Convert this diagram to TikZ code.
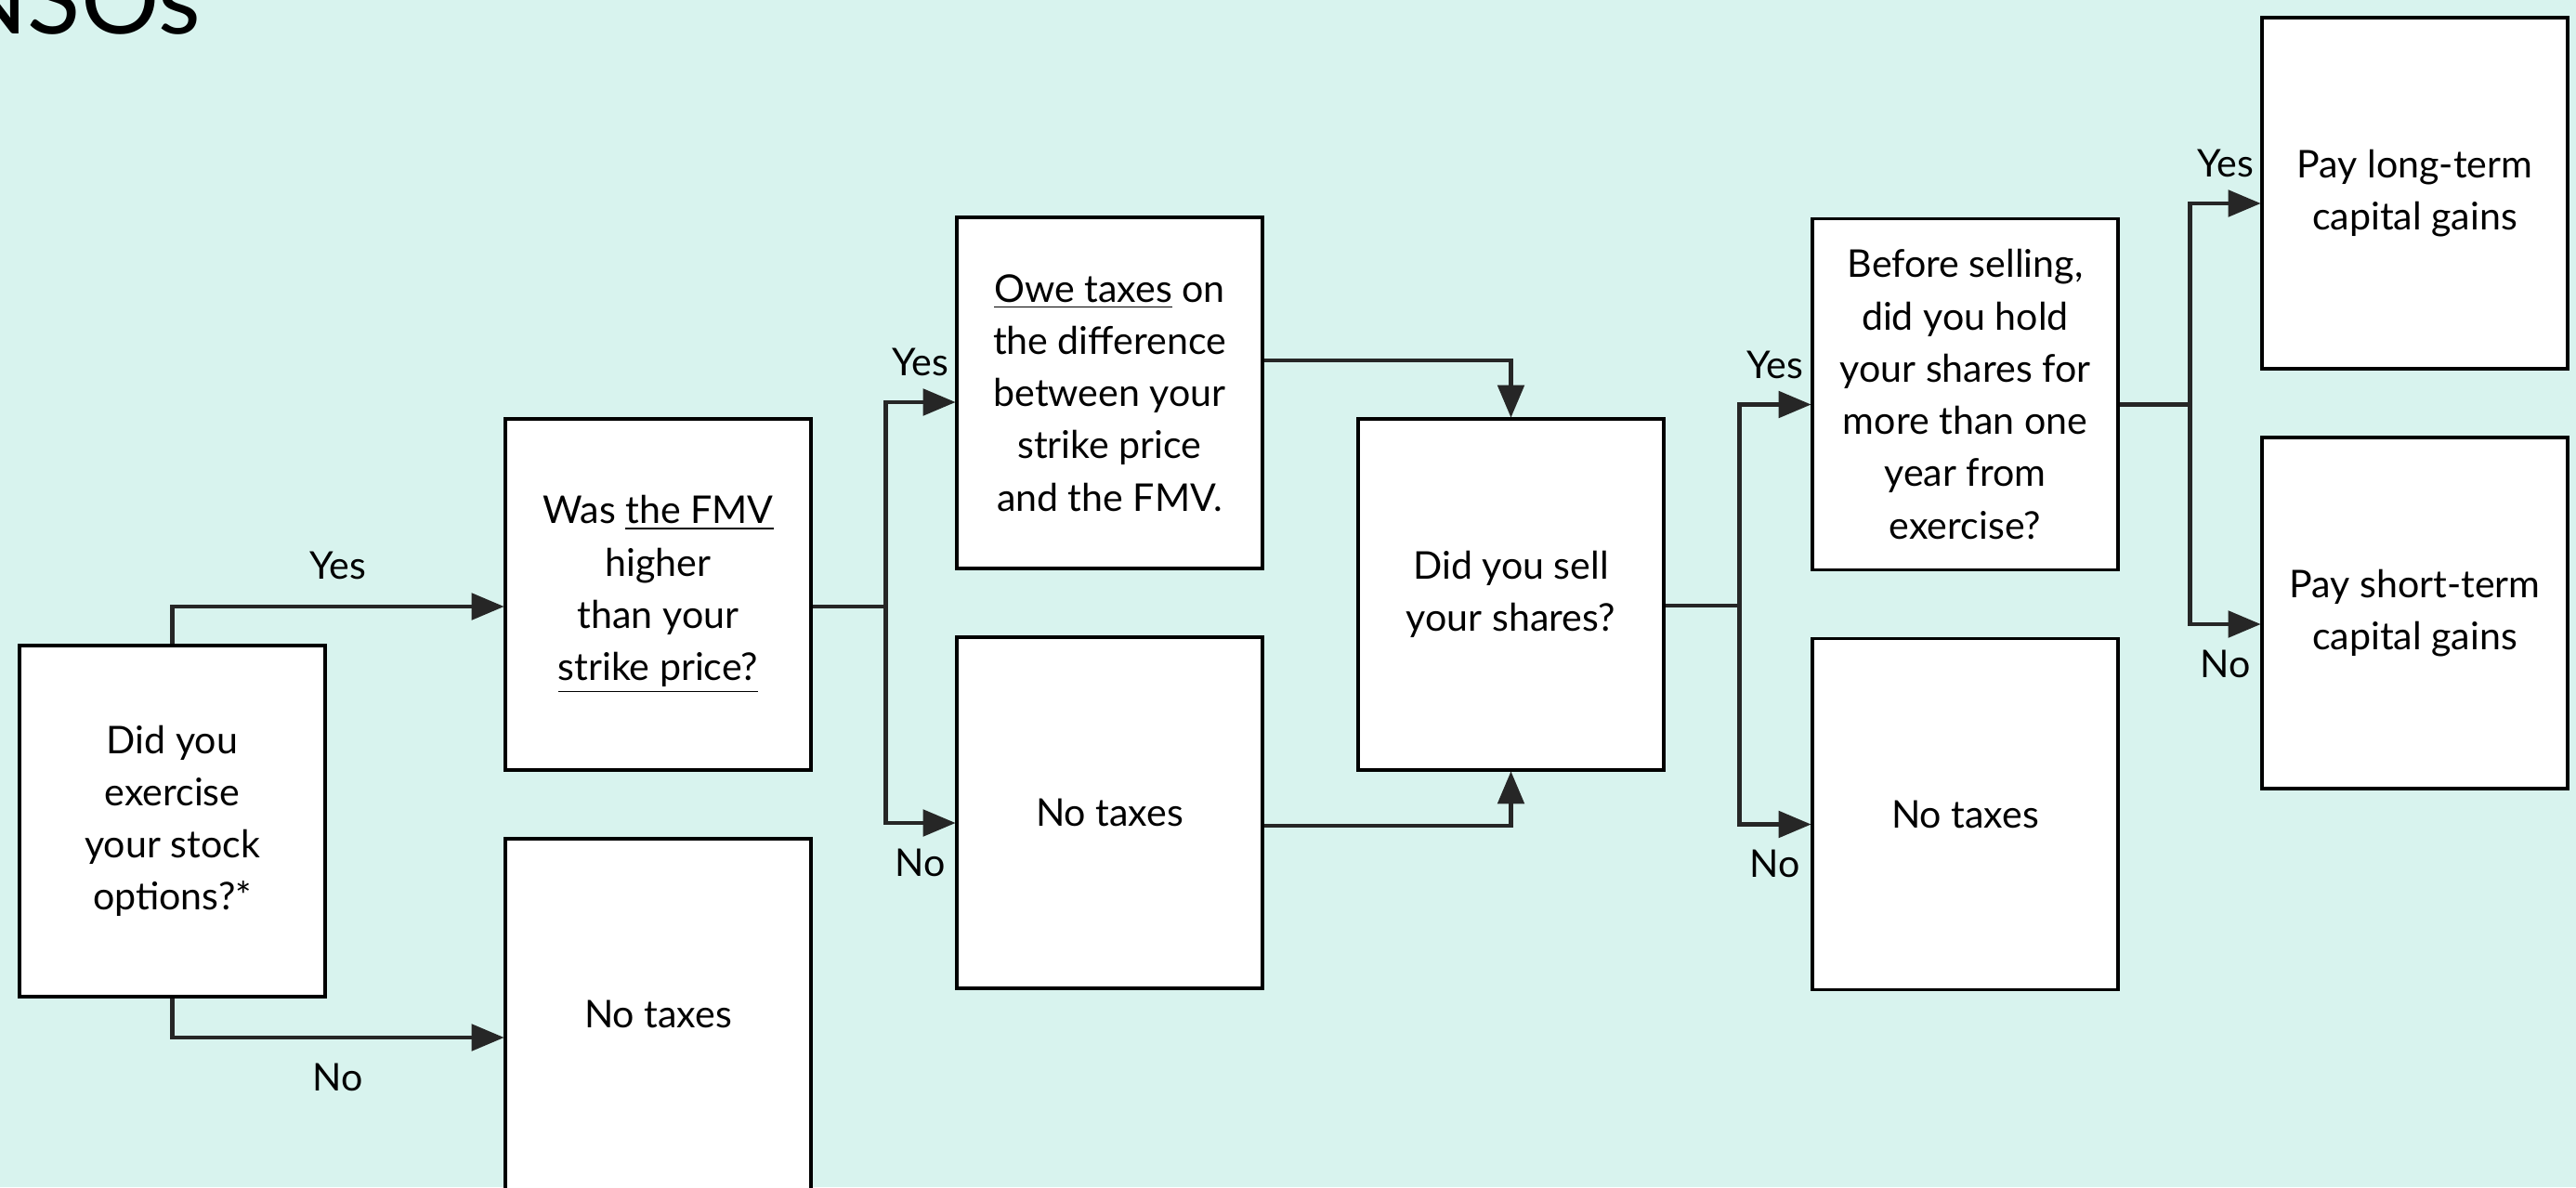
\documentclass[tikz,border=0pt]{standalone}
\usepackage{fontspec}
\setmainfont{Lato}
\usepackage{tikz}
\usetikzlibrary{arrows}
\definecolor{mint}{HTML}{D8F3EE}
\definecolor{ink}{HTML}{262626}
\newcommand{\boxfont}{\fontsize{11.7}{16}\selectfont}
\tikzstyle{question} = [rectangle, minimum width=3.29cm, minimum height=3.78cm, text centered, align=center, draw=black, line width=0.9pt, fill=white, font=\boxfont]
\tikzstyle{outcome} = [question]
\tikzstyle{arrow} = [line width=1.3pt, draw=ink, ->, >=triangle 45]
\tikzstyle{answer} = [font=\boxfont, inner sep=0.333em]

\begin{document}
\begin{tikzpicture}[node distance=4.52cm]
\useasboundingbox (0,0) rectangle (27.73,-12.78);
\clip (0,0) rectangle (27.73,-12.78);
\fill[mint] (0,0) rectangle (27.73,-12.78);
\node (title) [anchor=base east, inner sep=0pt, font=\fontsize{30}{30}\selectfont] at (2.17,-0.36) {NSOs};

% Nodes
\node (exercise) [question] at (1.855,-8.84) {Did you\\exercise\\your stock\\options?*};
\node (fmv) [question] at (7.085,-6.40) {Was \underline{the FMV}\\higher\\than your\\\underline{strike price?}};
\node (notax1) [outcome, below of=fmv] {No taxes};
\node (owe) [outcome] at (11.945,-4.23) {\underline{Owe taxes} on\\the difference\\between your\\strike price\\and the FMV.};
\node (notax2) [outcome, below of=owe] {No taxes};
\node (sell) [question] at (16.265,-6.40) {Did you sell\\your shares?};
\node (hold) [question] at (21.155,-4.245) {Before selling,\\did you hold\\your shares for\\more than one\\year from\\exercise?};
\node (notax3) [outcome, below of=hold] {No taxes};
\node (longterm) [outcome] at (25.995,-2.08) {Pay long-term\\capital gains};
\node (shortterm) [outcome, below of=longterm] {Pay short-term\\capital gains};

% Arrows
\draw [arrow] (exercise.north) |- node[answer, pos=0.75, above=1.5mm] {Yes} ([yshift=-1.3mm]fmv.west);
\draw [arrow] (exercise.south) |- node[answer, pos=0.75, below=1.4mm] {No} ([yshift=-2.5mm]notax1.west);

\draw [line width=1.3pt, draw=ink] ([yshift=-1.3mm]fmv.east) -- ++(0.79,0) coordinate (fmvfork);
\draw [arrow] (fmvfork) |- node[answer, pos=0.75, above=1.4mm] {Yes} ([yshift=-1mm]owe.west);
\draw [arrow] (fmvfork) |- node[answer, pos=0.75, below=1.4mm] {No} ([yshift=-1.1mm]notax2.west);

\draw [arrow] ([yshift=3.5mm]owe.east) -| (sell.north);
\draw [arrow] ([yshift=-1.4mm]notax2.east) -| (sell.south);

\draw [line width=1.3pt, draw=ink] ([yshift=-1.2mm]sell.east) -- ++(0.80,0) coordinate (sellfork);
\draw [arrow] (sellfork) |- node[answer, pos=0.75, above=1.4mm] {Yes} ([yshift=-1.1mm]hold.west);
\draw [arrow] (sellfork) |- node[answer, pos=0.75, below=1.4mm] {No} ([yshift=-1.1mm]notax3.west);

\draw [line width=1.3pt, draw=ink] ([yshift=-1.1mm]hold.east) -- ++(0.76,0) coordinate (holdfork);
\draw [arrow] (holdfork) |- node[answer, pos=0.75, above=1.4mm] {Yes} ([yshift=-1.1mm]longterm.west);
\draw [arrow] (holdfork) |- node[answer, pos=0.75, below=1.4mm] {No} ([yshift=-1.2mm]shortterm.west);
\end{tikzpicture}
\end{document}
